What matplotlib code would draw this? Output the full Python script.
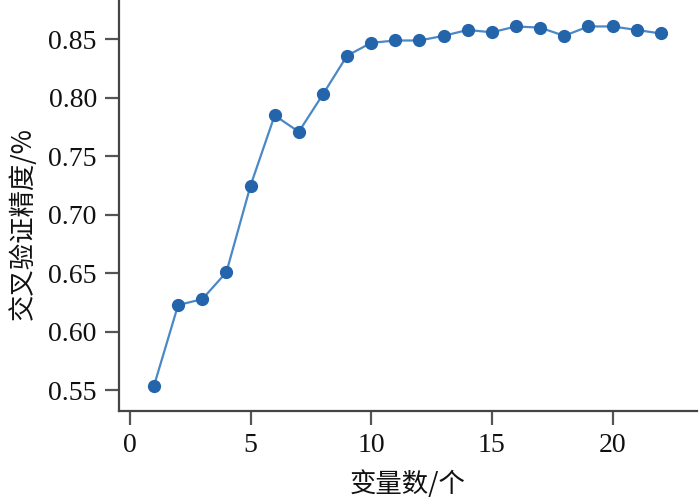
import matplotlib
matplotlib.use("Agg")
import matplotlib.pyplot as plt

n_vars = list(range(1, 23))
cv_acc = [0.554, 0.623, 0.628, 0.651, 0.725, 0.785, 0.771, 0.803, 0.836, 0.847,
          0.849, 0.849, 0.853, 0.858, 0.856, 0.861, 0.860, 0.853, 0.861, 0.861,
          0.858, 0.855]
x_ticks = [0, 5, 10, 15, 20]
y_ticks = [0.55, 0.60, 0.65, 0.70, 0.75, 0.80, 0.85]
x_label = "变量数/个"
y_label = "交叉验证精度/%"

plt.rcParams['font.family'] = ['Liberation Serif', 'Noto Sans CJK SC']

fig = plt.figure(figsize=(7, 4.97), dpi=100)
ax = fig.add_axes([0.170, 0.1736, 0.8257, 0.8264])

ax.plot(n_vars, cv_acc, '-', color='#4a88c6', lw=1.6, zorder=2)
ax.plot(n_vars, cv_acc, 'o', color='#2464ab', ms=8.5, zorder=3, mec='#2464ab')

ax.set_xlim(-0.45, 23.5)
ax.set_ylim(0.5327, 0.8836)
ax.set_xticks(x_ticks)
ax.set_yticks(y_ticks)
ax.set_xticklabels([str(v) for v in x_ticks])
ax.set_yticklabels([f"{v:.2f}" for v in y_ticks])

for s in ['top', 'right']:
    ax.spines[s].set_visible(False)
for s in ['left', 'bottom']:
    ax.spines[s].set_color('#444444')
    ax.spines[s].set_linewidth(1.6)

ax.tick_params(axis='both', length=10, width=1.6, color='#555555',
               labelsize=20, labelcolor='#111111', pad=6)

ax.set_xlabel(x_label, fontsize=19, color='#111111', labelpad=9,
              family=['Noto Sans CJK SC'])
ax.set_ylabel(y_label, fontsize=19, color='#111111',
              family=['Noto Sans CJK SC'])
ax.yaxis.set_label_coords(-0.143, 0.4546)

fig.savefig("out.png", dpi=100)
